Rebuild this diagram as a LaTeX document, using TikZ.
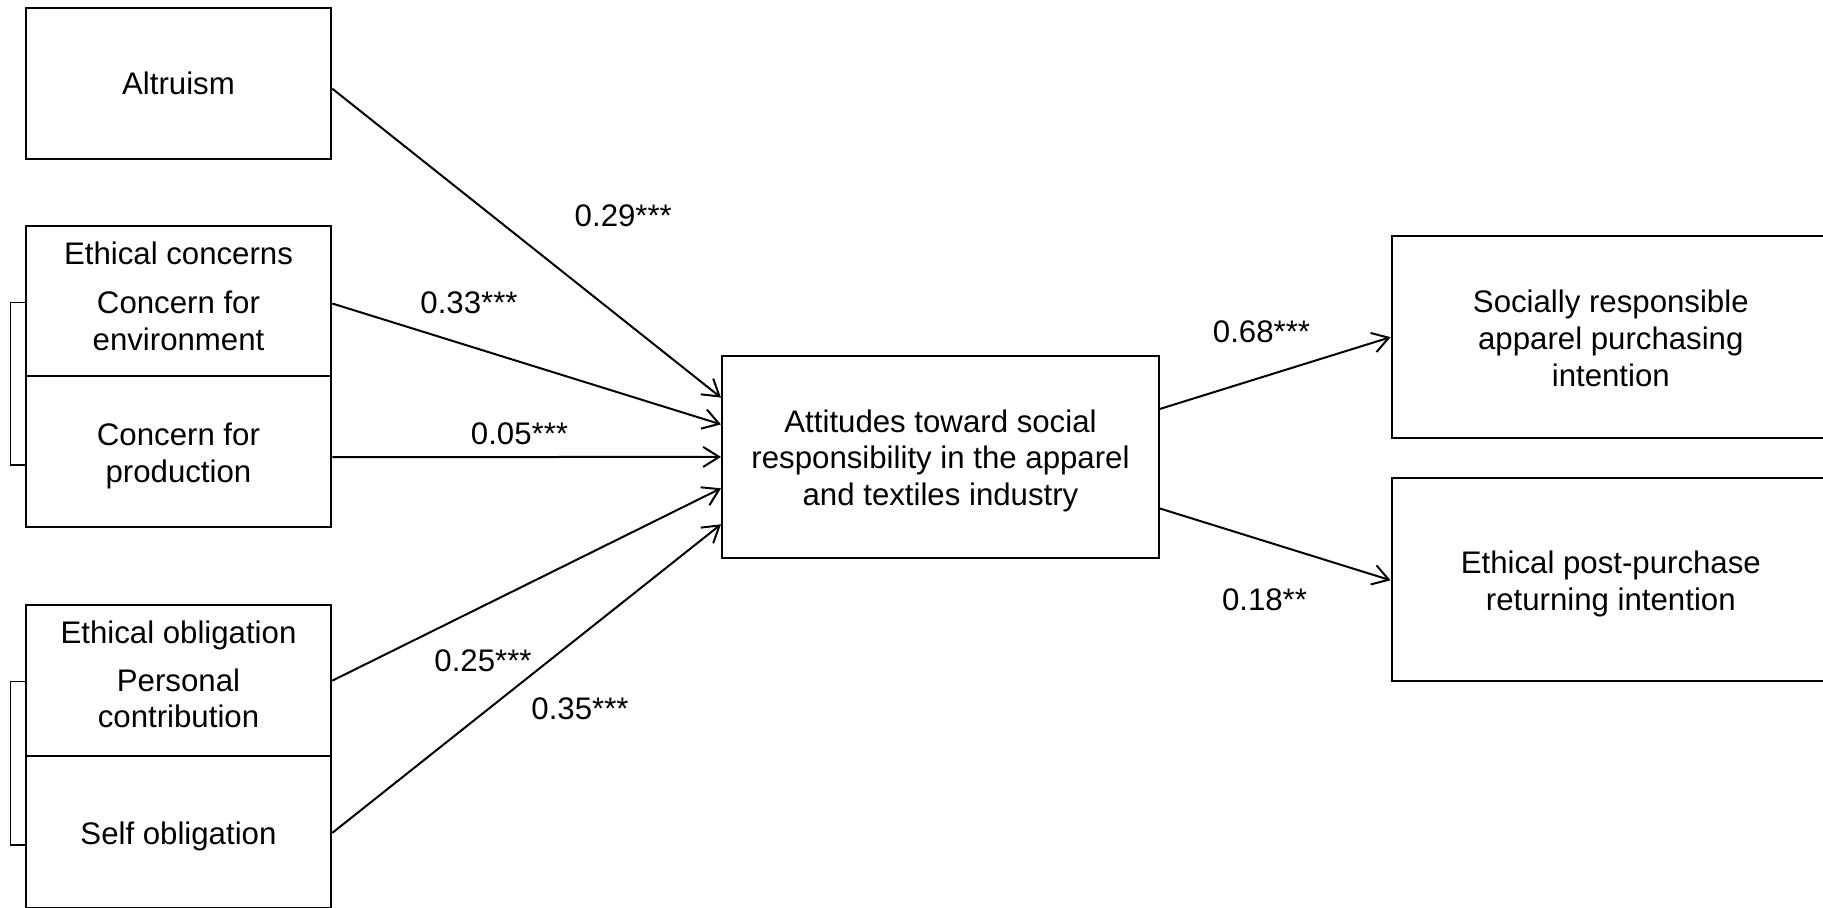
\documentclass[tikz,border=0pt]{standalone}
\usepackage{fontspec}
\setmainfont{Liberation Sans}
\usetikzlibrary{arrows.meta,fit,calc}
\begin{document}
\begin{tikzpicture}[x=0.5pt,y=-0.5pt,
  font=\fontsize{15.6pt}{18.4pt}\selectfont,
  box/.style={draw, line width=1pt, inner sep=0pt},
  intext/.style={inner sep=0pt, align=center},
  txt/.style={inner sep=0pt, anchor=base},
  lbl/.style={inner sep=0pt},
  link/.style={line width=1pt, -{Straight Barb[length=8pt,width=10pt]}},
  bracket/.style={line width=0.7pt}]
\useasboundingbox (0,0) rectangle (1823,907);
\clip (0,0) rectangle (1823,907);

% predictor boxes
\node[box, fit={(25.6,8.1) (331.3,159.3)}] (alt) {};
\node[box, fit={(25.6,225.5) (331.3,375.5)}] (env) {};
\node[box, fit={(25.6,375.5) (331.3,526.7)}] (prod) {};
\node[box, fit={(25.6,604.6) (331.3,755.7)}] (pers) {};
\node[box, fit={(25.6,755.7) (331.3,908)}] (self) {};

\node[intext] (altT) at (alt.center) {Altruism};
\node[intext] (prodT) at ($(prod.center)+(0,5)$) {Concern for\\production};
\node[intext] (selfT) at ($(self.center)+(0,4.5)$) {Self obligation};

\node[txt] (ectitle) at (178.5,264) {Ethical concerns};
\node[txt] (envA) at (178.5,313) {Concern for};
\node[txt] (envB) at (178.5,350) {environment};
\node[txt] (eotitle) at (178.5,643.5) {Ethical obligation};
\node[txt] (persA) at (178.5,691) {Personal};
\node[txt] (persB) at (178.5,727) {contribution};

% mediator and outcomes
\node[box, fit={(722,355.8) (1159,558)}] (att) {};
\node[box, fit={(1391.6,236) (1830,438.3)}] (spi) {};
\node[box, fit={(1391.6,478) (1830,680.5)}] (epr) {};

\node[intext] (attT) at ($(att.center)+(0,4)$)
  {Attitudes toward social\\responsibility in the apparel\\and textiles industry};
\node[intext] (spiT) at ($(spi.center)+(0,1)$)
  {Socially responsible\\apparel purchasing\\intention};
\node[intext] (eprT) at ($(epr.center)+(0,4.5)$)
  {Ethical post-purchase\\returning intention};

% brackets grouping the sub-dimensions
\draw[bracket] ($(env.west)+(0,2)$) -- ++(-14,0) |- ($(prod.west)+(0,14)$);
\draw[bracket] ($(pers.west)+(0,1.5)$) -- ++(-14,0) |- ($(self.west)+(0,13)$);

% paths
\draw[link] ($(alt.east)+(0,5)$) -- ($(att.west)+(0,-59.3)$);
\draw[link] ($(env.east)+(0,3)$) -- ($(att.west)+(0,-32.5)$);
\draw[link] ($(prod.east)+(0,6)$) -- ($(att.west)+(0,0)$);
\draw[link] ($(pers.east)+(0,0.5)$) -- ($(att.west)+(0,31.4)$);
\draw[link] ($(self.east)+(0,1)$) -- ($(att.west)+(0,67.4)$);
\draw[link] ($(att.east)+(0,-48)$) -- (spi.west);
\draw[link] ($(att.east)+(0,51.6)$) -- ($(epr.west)+(0,1)$);

% path coefficients
\node[lbl] (c1) at (623.3,216) {0.29***};
\node[lbl] (c2) at (469,302.5) {0.33***};
\node[lbl] (c3) at (519.5,434) {0.05***};
\node[lbl] (c4) at (483,661) {0.25***};
\node[lbl] (c5) at (580,709) {0.35***};
\node[lbl] (c6) at (1261.5,331.5) {0.68***};
\node[lbl] (c7) at (1264.5,600) {0.18**};
\end{tikzpicture}
\end{document}
